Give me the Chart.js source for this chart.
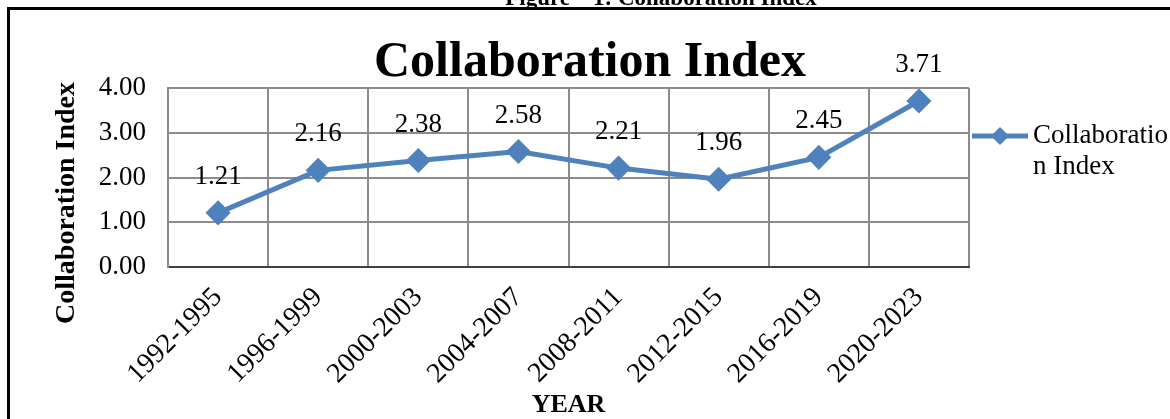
<!DOCTYPE html>
<html lang="en">
<head>
    <meta charset="UTF-8">
    <title>Collaboration Index</title>
    <script src="https://cdn.jsdelivr.net/npm/chart.js"></script>
    <style>
        body {
            margin: 0;
            background-color: #ffffff;
        }
        #chart-container {
            width: 1170px;
            height: 419px;
        }
    </style>
</head>
<body>
    <div id="chart-container">
        <canvas id="ciChart"></canvas>
    </div>

    <script>
        // data
        const periods = ['1992-1995', '1996-1999', '2000-2003', '2004-2007', '2008-2011', '2012-2015', '2016-2019', '2020-2023'];
        const ciValues = [1.21, 2.16, 2.38, 2.58, 2.21, 1.96, 2.45, 3.71];
        const seriesName = 'Collaboration Index';
        const chartTitle = 'Collaboration Index';
        const figureCaption = 'Figure \u2013 1: Collaboration Index';
        const yTitle = 'Collaboration Index';
        const xTitle = 'YEAR';

        const serif = '"Liberation Serif", "DejaVu Serif", serif';
        const lineColor = '#4F81BD';

        // labels above points, titles, legend and frame
        const decorPlugin = {
            id: 'decor',
            afterDatasetsDraw(chart) {
                const ctx = chart.ctx;
                const meta = chart.getDatasetMeta(0);
                ctx.save();
                ctx.fillStyle = '#000';
                ctx.font = '27px ' + serif;
                ctx.textAlign = 'center';
                ctx.textBaseline = 'middle';
                meta.data.forEach((pt, i) => {
                    ctx.fillText(ciValues[i].toFixed(2), pt.x, pt.y - 36);
                });
                ctx.restore();
            },
            afterDraw(chart) {
                const ctx = chart.ctx;
                const area = chart.chartArea;
                ctx.save();

                // outer frame (cut off at right and bottom)
                ctx.strokeStyle = '#000';
                ctx.lineWidth = 3;
                ctx.beginPath();
                ctx.moveTo(8.5, 425);
                ctx.lineTo(8.5, 8.5);
                ctx.lineTo(1175, 8.5);
                ctx.stroke();

                // caption above frame, mostly clipped
                ctx.fillStyle = '#000';
                ctx.textAlign = 'center';
                ctx.textBaseline = 'alphabetic';
                ctx.font = 'bold 23px ' + serif;
                ctx.fillText(figureCaption, 661, 5);

                // chart title
                ctx.font = 'bold 50px ' + serif;
                ctx.fillText(chartTitle, 590, 76);

                // x axis title
                ctx.font = 'bold 26px ' + serif;
                ctx.textBaseline = 'middle';
                ctx.fillText(xTitle, (area.left + area.right) / 2, 405);

                // y axis title
                ctx.save();
                ctx.translate(67, 203);
                ctx.rotate(-Math.PI / 2);
                ctx.font = 'bold 28px ' + serif;
                ctx.fillText(yTitle, 0, 0);
                ctx.restore();

                // legend
                const ly = 136;
                ctx.strokeStyle = lineColor;
                ctx.lineWidth = 5;
                ctx.beginPath();
                ctx.moveTo(972, ly);
                ctx.lineTo(1028, ly);
                ctx.stroke();
                ctx.fillStyle = lineColor;
                ctx.beginPath();
                ctx.moveTo(1000, ly - 9);
                ctx.lineTo(1009, ly);
                ctx.lineTo(1000, ly + 9);
                ctx.lineTo(991, ly);
                ctx.closePath();
                ctx.fill();
                ctx.fillStyle = '#000';
                ctx.textAlign = 'left';
                ctx.font = '27px ' + serif;
                ctx.fillText(seriesName.slice(0, 12), 1033, ly);
                ctx.fillText(seriesName.slice(12), 1033, ly + 31);

                ctx.restore();
            }
        };

        const ctx = document.getElementById('ciChart').getContext('2d');
        new Chart(ctx, {
            type: 'line',
            data: {
                labels: periods,
                datasets: [{
                    label: seriesName,
                    data: ciValues,
                    borderColor: lineColor,
                    backgroundColor: lineColor,
                    borderWidth: 5,
                    pointStyle: 'rectRot',
                    pointRadius: 9,
                    pointHoverRadius: 9,
                    pointBackgroundColor: lineColor,
                    pointBorderColor: lineColor,
                    tension: 0
                }]
            },
            options: {
                responsive: true,
                maintainAspectRatio: false,
                animation: false,
                layout: {
                    padding: { left: 0, right: 201, top: 88, bottom: 0 }
                },
                plugins: {
                    legend: { display: false },
                    title: { display: false },
                    tooltip: { enabled: false }
                },
                scales: {
                    x: {
                        offset: true,
                        grid: {
                            offset: true,
                            color: '#8c8c8c',
                            lineWidth: 2,
                            drawTicks: false
                        },
                        border: { color: '#404040', width: 2 },
                        ticks: {
                            color: '#000',
                            font: { family: serif, size: 28 },
                            maxRotation: 45,
                            minRotation: 45,
                            padding: 14
                        },
                        afterFit(scale) { scale.height = 152; }
                    },
                    y: {
                        min: 0,
                        max: 4,
                        grid: {
                            color: '#8c8c8c',
                            lineWidth: 2,
                            drawTicks: false
                        },
                        border: { color: '#8c8c8c', width: 2 },
                        ticks: {
                            stepSize: 1,
                            color: '#000',
                            font: { family: serif, size: 27 },
                            padding: 22,
                            callback: v => v.toFixed(2)
                        },
                        afterFit(scale) { scale.width = 168; }
                    }
                }
            },
            plugins: [decorPlugin]
        });
    </script>
</body>
</html>
